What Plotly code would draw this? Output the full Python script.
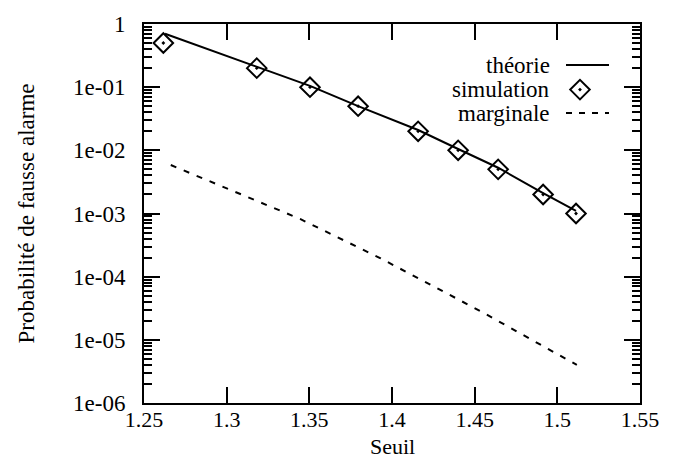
import plotly.graph_objects as go

# ---- data ----
sim_x = [1.2617, 1.3182, 1.3504, 1.3795, 1.4158, 1.4400, 1.4642, 1.4914, 1.5113]
sim_y = [0.5, 0.2, 0.1, 0.05, 0.02, 0.01, 0.005, 0.002, 0.001]

theo_x = [1.2627, 1.3182, 1.3504, 1.3795, 1.4158, 1.4400, 1.4642, 1.4914, 1.5113]
theo_y = [0.70, 0.21, 0.105, 0.05, 0.021, 0.0105, 0.0053, 0.0021, 0.0011]

marg_x = [1.2662, 1.3444, 1.3928, 1.4543, 1.5118]
marg_y = [5.85e-3, 8.2e-4, 1.97e-4, 2.77e-5, 4.0e-6]

x_ticks = [1.25, 1.3, 1.35, 1.4, 1.45, 1.5, 1.55]
x_ticktext = ["1.25", "1.3", "1.35", "1.4", "1.45", "1.5", "1.55"]
y_ticks = [1, 1e-1, 1e-2, 1e-3, 1e-4, 1e-5, 1e-6]
y_ticktext = ["1", "1e-01", "1e-02", "1e-03", "1e-04", "1e-05", "1e-06"]

legend_names = ["théorie", "simulation", "marginale"]

FONT = "Liberation Serif, Times New Roman, Times, serif"
FS = 23
FSX = 22

fig = go.Figure()

fig.add_trace(go.Scatter(x=theo_x, y=theo_y, mode="lines",
                         line=dict(color="black", width=2), showlegend=False))
fig.add_trace(go.Scatter(x=sim_x, y=sim_y, mode="markers",
                         marker=dict(symbol="diamond-open-dot", size=15, color="black",
                                     line=dict(color="black", width=2)),
                         showlegend=False))
fig.add_trace(go.Scatter(x=marg_x, y=marg_y, mode="lines",
                         line=dict(color="black", width=2, dash="6px,8px"), showlegend=False))

# ---- manual legend (symbol to the right of the text), on an overlay axis ----
lg_text_x = 0.8226
lg_rows_y = [0.8915, 0.8269, 0.7649]
lg_line_x = [0.8508, 0.9375]
lg_mark_x = 0.879

fig.add_trace(go.Scatter(x=lg_line_x, y=[lg_rows_y[0]] * 2, xaxis="x2", yaxis="y2",
                         mode="lines", line=dict(color="black", width=2), showlegend=False,
                         hoverinfo="skip"))
fig.add_trace(go.Scatter(x=[lg_mark_x], y=[lg_rows_y[1]], xaxis="x2", yaxis="y2",
                         mode="markers",
                         marker=dict(symbol="diamond-open-dot", size=15, color="black",
                                     line=dict(color="black", width=2)),
                         showlegend=False, hoverinfo="skip"))
fig.add_trace(go.Scatter(x=lg_line_x, y=[lg_rows_y[2]] * 2, xaxis="x2", yaxis="y2",
                         mode="lines", line=dict(color="black", width=2, dash="6px,7px"),
                         showlegend=False, hoverinfo="skip"))

for name, yy in zip(legend_names, lg_rows_y):
    fig.add_annotation(x=lg_text_x, y=yy, xref="paper", yref="paper", text=name,
                       showarrow=False, xanchor="right", yanchor="middle",
                       font=dict(family=FONT, size=FS, color="black"))

# axis titles as annotations
fig.add_annotation(x=0.5, y=-0.1137, xref="paper", yref="paper", text="Seuil",
                   showarrow=False, xanchor="center", yanchor="middle",
                   font=dict(family=FONT, size=FSX, color="black"))
fig.add_annotation(x=-0.236, y=0.5, xref="paper", yref="paper",
                   text="Probabilité de fausse alarme", textangle=-90,
                   showarrow=False, xanchor="center", yanchor="middle",
                   font=dict(family=FONT, size=FS, color="black"))

fig.update_layout(
    width=675, height=461,
    margin=dict(l=144, r=35, t=16, b=58),
    paper_bgcolor="white", plot_bgcolor="white",
    font=dict(family=FONT, size=FS, color="black"),
    showlegend=False,
    xaxis=dict(range=[1.25, 1.55], tickvals=x_ticks, ticktext=x_ticktext,
               showgrid=False, zeroline=False, showline=True, linecolor="black",
               linewidth=2, mirror="allticks", ticks="inside", ticklen=16,
               tickwidth=2, tickcolor="black", ticklabelstandoff=-4,
               tickfont=dict(family=FONT, size=FSX, color="black")),
    yaxis=dict(type="log", range=[-6, 0], tickvals=y_ticks, ticktext=y_ticktext,
               showgrid=False, zeroline=False, showline=True, linecolor="black",
               linewidth=2, mirror="allticks", ticks="inside", ticklen=16,
               tickwidth=2, tickcolor="black", ticklabelstandoff=12,
               tickfont=dict(family=FONT, size=FS, color="black"),
               minor=dict(ticks="inside", ticklen=8, tickwidth=1.5,
                          tickcolor="black", dtick="D1", showgrid=False)),
    xaxis2=dict(overlaying="x", range=[0, 1], visible=False),
    yaxis2=dict(overlaying="y", range=[0, 1], visible=False),
)

fig.write_html("out.html")
